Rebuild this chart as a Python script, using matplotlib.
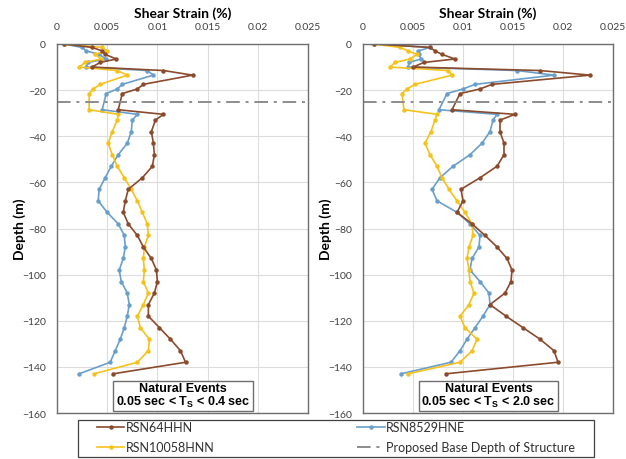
import matplotlib.pyplot as plt
from matplotlib.patches import Rectangle
from matplotlib.lines import Line2D

plt.rcParams['font.family'] = ['Lato', 'DejaVu Sans']
plt.rcParams['mathtext.fontset'] = 'custom'
plt.rcParams['mathtext.rm'] = 'Liberation Sans'
plt.rcParams['mathtext.bf'] = 'Liberation Sans:bold'

depth = [0, -1.5, -3, -4.5, -6.5, -8, -10, -11.5, -13.5, -17.5, -19.5, -21.5,
         -28.5, -30.5, -33, -38, -43, -48, -53, -58, -63, -68, -73, -78, -83,
         -88, -93, -98, -103, -108, -113, -118, -123, -128, -133, -138, -143]

# left panel: 0.05 sec < Ts < 0.4 sec
left_64 = [0.0007, 0.0035, 0.0045, 0.0048, 0.0059, 0.0043, 0.0035, 0.0106, 0.0135,
           0.0086, 0.0080, 0.0065, 0.0061, 0.0106, 0.0098, 0.0094, 0.0096, 0.0097,
           0.0095, 0.0085, 0.0071, 0.0068, 0.0066, 0.0071, 0.0080, 0.0086, 0.0094,
           0.0099, 0.0100, 0.0097, 0.0091, 0.0091, 0.0102, 0.0113, 0.0123, 0.0128, 0.0056]
left_8529 = [0.0007, 0.0025, 0.0029, 0.0042, 0.0049, 0.0031, 0.0029, 0.0090, 0.0096,
             0.0065, 0.0060, 0.0049, 0.0045, 0.0080, 0.0075, 0.0074, 0.0070, 0.0061,
             0.0054, 0.0048, 0.0042, 0.0041, 0.0050, 0.0061, 0.0067, 0.0068, 0.0066,
             0.0062, 0.0064, 0.0070, 0.0072, 0.0070, 0.0067, 0.0063, 0.0058, 0.0053, 0.0022]
left_10058 = [0.0008, 0.0045, 0.0050, 0.0038, 0.0044, 0.0028, 0.0022, 0.0060, 0.0070,
              0.0043, 0.0036, 0.0032, 0.0032, 0.0061, 0.0060, 0.0055, 0.0051, 0.0055,
              0.0060, 0.0067, 0.0074, 0.0080, 0.0085, 0.0090, 0.0091, 0.0087, 0.0086,
              0.0087, 0.0086, 0.0091, 0.0086, 0.0080, 0.0083, 0.0092, 0.0091, 0.0080, 0.0037]

# right panel: 0.05 sec < Ts < 2.0 sec
right_64 = [0.0011, 0.0067, 0.0072, 0.0079, 0.0092, 0.0061, 0.0050, 0.0177, 0.0227,
            0.0129, 0.0117, 0.0097, 0.0089, 0.0152, 0.0137, 0.0137, 0.0141, 0.0141,
            0.0134, 0.0117, 0.0098, 0.0100, 0.0094, 0.0109, 0.0122, 0.0134, 0.0144,
            0.0149, 0.0148, 0.0142, 0.0127, 0.0143, 0.0160, 0.0177, 0.0191, 0.0195, 0.0083]
right_8529 = [0.0011, 0.0067, 0.0055, 0.0056, 0.0058, 0.0046, 0.0045, 0.0154, 0.0191,
              0.0112, 0.0100, 0.0084, 0.0076, 0.0134, 0.0130, 0.0127, 0.0119, 0.0107,
              0.0090, 0.0077, 0.0069, 0.0074, 0.0094, 0.0107, 0.0117, 0.0116, 0.0109,
              0.0107, 0.0117, 0.0126, 0.0127, 0.0120, 0.0112, 0.0104, 0.0097, 0.0088, 0.0038]
right_10058 = [0.0011, 0.0037, 0.0045, 0.0054, 0.0047, 0.0032, 0.0027, 0.0085, 0.0089,
               0.0052, 0.0044, 0.0039, 0.0041, 0.0074, 0.0072, 0.0068, 0.0062, 0.0067,
               0.0074, 0.0079, 0.0086, 0.0094, 0.0102, 0.0109, 0.0110, 0.0106, 0.0104,
               0.0106, 0.0107, 0.0111, 0.0106, 0.0097, 0.0102, 0.0114, 0.0109, 0.0097, 0.0045]

base_depth = -25
xticks = [0, 0.005, 0.01, 0.015, 0.02, 0.025]
xtick_labels = ['0', '0.005', '0.01', '0.015', '0.02', '0.025']
yticks = [0, -20, -40, -60, -80, -100, -120, -140, -160]

c_brown = '#8b4a2b'
c_blue = '#6a9fcb'
c_yellow = '#f5c21b'
c_gray = '#8c8c8c'

fig = plt.figure(figsize=(6.26, 4.6), dpi=100)
ax1 = fig.add_axes([57 / 626, 1 - 414 / 460, 251 / 626, 369 / 460])
ax2 = fig.add_axes([363 / 626, 1 - 414 / 460, 250 / 626, 369 / 460])

panels = [
    (ax1, left_64, left_10058, left_8529, '0.05 sec < T$_\\mathbf{S}$ < 0.4 sec'),
    (ax2, right_64, right_10058, right_8529, '0.05 sec < T$_\\mathbf{S}$ < 2.0 sec'),
]

for ax, s64, s10058, s8529, period in panels:
    ax.plot(s8529, depth, color=c_blue, lw=1.2, marker='o', ms=2.2)
    ax.plot(s10058, depth, color=c_yellow, lw=1.2, marker='o', ms=2.2)
    ax.plot(s64, depth, color=c_brown, lw=1.2, marker='o', ms=2.2)
    ax.axhline(base_depth, color=c_gray, lw=1.4, linestyle=(0, (7, 3, 1.5, 3)))

    ax.set_xlim(0, 0.025)
    ax.set_ylim(-160, 0)
    ax.set_xticks(xticks)
    ax.set_xticklabels(xtick_labels)
    ax.set_yticks(yticks)
    ax.xaxis.tick_top()
    ax.xaxis.set_label_position('top')
    ax.tick_params(length=0, labelsize=7.5, colors='#404040')
    ax.tick_params(axis='x', pad=9)
    ax.tick_params(axis='y', pad=8)
    ax.grid(color='#dcdcdc', lw=0.8)
    ax.set_axisbelow(True)
    for sp in ax.spines.values():
        sp.set_color('#6e6e6e')
        sp.set_linewidth(1.0)

    ax.set_xlabel('Shear Strain (%)', fontsize=10, fontweight='bold', labelpad=4)
    ax.set_ylabel('Depth (m)', fontsize=10, fontweight='bold', labelpad=-3)

    ax.text(0.01255, -152.3, 'Natural Events\n' + period, ha='center', va='center',
            fontsize=9, fontweight='bold', family='Liberation Sans', linespacing=0.95,
            bbox=dict(boxstyle='square,pad=0.2', fc='white', ec='#6e6e6e', lw=1.0))

handles = [
    Line2D([], [], color=c_brown, lw=1.2, marker='o', ms=2.2),
    Line2D([], [], color=c_yellow, lw=1.2, marker='o', ms=2.2),
    Line2D([], [], color=c_blue, lw=1.2, marker='o', ms=2.2),
    Line2D([], [], color=c_gray, lw=1.4, linestyle=(0, (7, 3, 1.5, 3))),
]
labels = ['RSN64HHN', 'RSN10058HNN', 'RSN8529HNE', 'Proposed Base Depth of Structure']

fig.patches.append(Rectangle((78 / 626, 2 / 460), 516 / 626, 37 / 460,
                             transform=fig.transFigure, fill=False,
                             ec='#404040', lw=0.9))
fig.legend(handles, labels, ncol=2, loc='upper left', mode='expand', frameon=False,
           bbox_to_anchor=(97 / 626, 0, 478 / 626, 1 - 422 / 460), borderaxespad=0,
           borderpad=0.0, fontsize=9, handlelength=2.2, handletextpad=0.1,
           labelspacing=0.65, labelcolor='#303030')

fig.savefig('out.png', dpi=100)
